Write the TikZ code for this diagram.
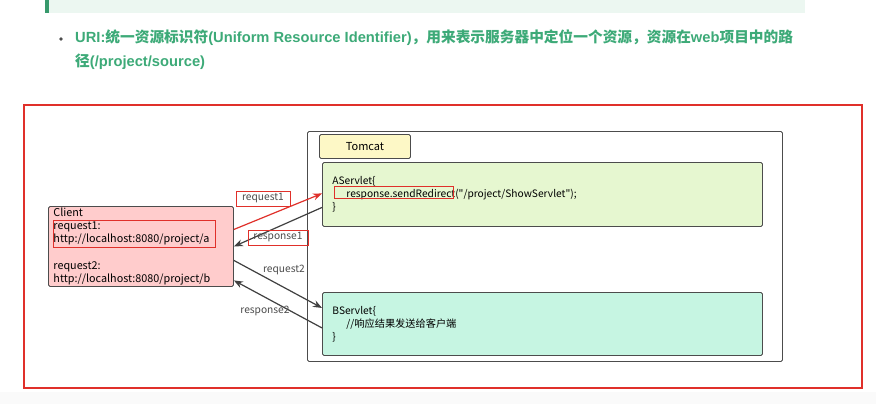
\documentclass[tikz,border=0pt]{standalone}
\usepackage{fontspec}
\setmainfont{Liberation Sans}
\newfontfamily\cjk{Noto Sans CJK SC}
\usetikzlibrary{positioning,arrows.meta}

\definecolor{uriGreen}{HTML}{3DAA78}
\definecolor{clientPink}{HTML}{FFCCCC}
\definecolor{aGreen}{HTML}{E6F7D0}
\definecolor{bMint}{HTML}{C6F5E2}
\definecolor{tomYellow}{HTML}{FDF8C6}
\definecolor{frameRed}{HTML}{E0302A}

\begin{document}
\begin{tikzpicture}[x=1pt,y=-1pt,>={Stealth[length=9pt,width=7pt]},
	box/.style={draw=black!70,rounded corners=1.5pt,line width=0.9pt,anchor=north west,
		align=left,font=\cjk\fontsize{10.2}{13.1}\selectfont},
	lbl/.style={text=black!70,font=\cjk\fontsize{10.2}{12}\selectfont,inner sep=1pt},
	hilite/.style={draw=frameRed,line width=1pt},
	flow/.style={->,draw=black!75,line width=1.2pt}] 
	\useasboundingbox (0,0) rectangle (876,404);
	\fill[white] (0,0) rectangle (876,404);
	\fill[black!2] (0,392) rectangle (876,404);
	\fill[uriGreen!10] (45,0) rectangle (805,13);
	\fill[uriGreen!90!black] (45,0) rectangle (49,13);
	
	% bullet line
	\fill[black!70] (61,39) circle (1.8);
	\node[anchor=north west,text=uriGreen,inner sep=0,align=left,
		font=\bfseries\fontsize{14.7}{24}\selectfont] (uri) at (75,29)
		{URI:{\cjk 统一资源标识符}(Uniform Resource Identifier){\cjk ，用来表示服务器中定位一个资源，资源在}web{\cjk 项目中的路}\\{\cjk 径}(/project/source)};
	
	% frame
	\draw[frameRed,line width=1.3pt] (24,105) rectangle (862,388);
	
	\node[box,fill=white,minimum width=475,minimum height=230] (tomcat) at (307,131) {};
	\node[box,fill=tomYellow,minimum width=91,minimum height=24,align=center,
		font=\cjk\fontsize{11}{13}\selectfont] (tomcat_lbl) at (319,134) {Tomcat};
	\node[box,fill=aGreen,minimum width=438,minimum height=64,text width=420,inner xsep=10] (a_servlet) at (322,162)
		{AServlet\{\\\hspace*{14pt}response.sendRedirect("/project/ShowServlet");\\\}};
	\node[box,fill=bMint,minimum width=438,minimum height=63,text width=420,inner xsep=10] (b_servlet) at (322,292)
		{BServlet\{\\\hspace*{14pt}//响应结果发送给客户端\\\}};
	\node[box,fill=clientPink,minimum width=185,minimum height=80,text width=175,inner xsep=5,inner ysep=0,
		font=\cjk\fontsize{10.8}{13.1}\selectfont] (client) at (48,206)
		{Client\\request1:\\http://localhost:8080/project/a\\[13pt]request2:\\http://localhost:8080/project/b};
	
	% highlights
	\draw[hilite] (53,220) rectangle (215,247);
	\draw[hilite] (334,186) rectangle (453,198);
	
	\draw[flow,draw=frameRed] ([yshift=17pt]client.east) -- ([yshift=1pt]a_servlet.west);
	\draw[flow] ([yshift=-13pt]a_servlet.west) -- (client.east);
	\draw[flow] ([yshift=-14pt]client.east) -- ([yshift=16pt]b_servlet.west);
	\draw[flow] ([yshift=-4pt]b_servlet.west) -- ([yshift=-34pt]client.east);
	
	\node[lbl,hilite,minimum width=54,minimum height=15] (req_1) at (263,198.5) {request1};
	\node[lbl,hilite,minimum width=60,minimum height=15] (resp_1) at (278,237.5) {response1};
	\node[lbl] (req_2) at (284,270) {request2};
	\node[lbl] (resp_2) at (265,311) {response2};
	
\end{tikzpicture}
\end{document}
